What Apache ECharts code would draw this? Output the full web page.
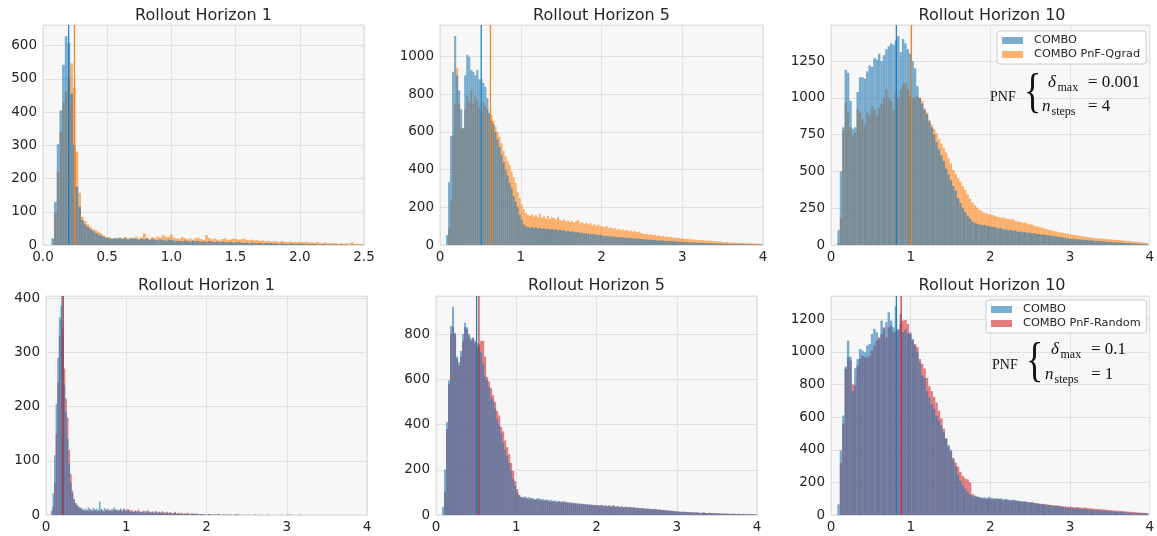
<!DOCTYPE html>
<html>
<head>
<meta charset="utf-8">
<script src="https://cdn.jsdelivr.net/npm/echarts@6/dist/echarts.min.js"></script>
<style>html,body{margin:0;padding:0;background:#fff}#c{width:1157px;height:536px}</style>
</head>
<body>
<div id="c"></div>
<script>
// ---------- Data (bin counts) ----------
// Panel 1: Rollout Horizon 1 (Qgrad), bins start 0.065, width 0.021
const p1Start = 0.065, p1Width = 0.021;
const p1Combo = [20,130,303,405,542,628,608,455,300,175,115,75,62,55,48,42,36,32,28,25,
 22,20,18,21,19,22,18,20,17,19,21,18,16,19,17,20,15,18,16,14,17,15,13,16,
 15,14,12,13,11,14,12,10,13,11,12,10,11,9,12,10,9,11,8,10,9,8,10,7,
 8,9,7,6,8,5,7,6,5,7,4,6,5,6,4,5,3,5,4,3,4,5,3,4,
 3,4,2,3,2,3,2,1,3,2,1,2,1,2,1,1,2,1,0,1,1,0,1,0];
const p1Qgrad = [0,95,220,340,430,462,507,547,472,281,157,85,72,62,55,48,45,40,35,28,
 22,24,20,18,22,19,21,24,20,22,18,25,20,23,35,22,19,24,21,26,22,30,25,24,
 32,22,20,18,24,21,17,19,16,20,22,18,15,30,21,17,19,16,14,18,20,15,17,19,
 18,16,17,19,15,14,16,13,15,12,14,11,13,10,12,11,9,12,10,9,11,8,10,9,
 9,8,10,7,8,6,9,7,5,8,6,4,6,5,4,6,3,5,4,8,3,4,2,3];
// Panel 2: Rollout Horizon 5 (Qgrad), bins start 0.075, width 0.025
const p2Start = 0.075, p2Width = 0.025;
const p2Combo = [53,333,579,920,1110,900,820,720,620,900,1010,1000,930,920,900,930,880,880,860,840,780,700,660,640,600,560,520,480,440,400,370,330,300,260,230,200,160,135,110,100,95,
 92,96,90,94,88,91,86,89,84,87,82,85,80,83,78,81,
 76,79,72,75,70,73,68,66,69,63,65,61,64,58,60,56,59,54,52,55,
 50,47,49,45,47,43,45,41,43,40,42,38,39,36,38,35,36,33,34,32,
 31,29,30,27,28,26,27,24,25,23,24,22,21,22,20,19,20,18,17,18,
 16,15,16,14,13,14,12,13,11,12,10,11,10,9,10,8,9,8,7,8,
 7,6,7,5,6,5,6,4,5,4,5,3,4,3,4,2,3,3,2,2];
const p2Qgrad = [0,90,240,585,750,940,750,620,620,720,790,760,820,750,790,770,730,700,760,740,720,700,690,660,630,600,575,540,500,470,445,425,390,360,330,280,250,215,190,170,160,
 155,162,150,158,148,165,145,152,140,155,138,147,142,135,150,132,
 128,135,125,130,122,128,118,125,132,115,120,112,118,108,115,105,110,102,108,100,
 98,95,100,90,94,86,90,82,86,78,84,76,80,72,76,70,74,68,70,65,
 62,58,60,55,57,52,54,49,51,46,48,44,45,41,43,39,40,37,38,35,
 34,32,33,30,31,28,29,26,27,25,26,23,24,22,23,20,21,19,20,18,
 16,15,16,13,14,12,13,11,12,10,11,9,10,8,9,7,8,6,7,6];
// Panel 3: Rollout Horizon 10 (Qgrad), bins start 0.08, width 0.03
const p3Start = 0.08, p3Width = 0.03;
const p3Combo = [100,500,800,1190,1170,980,790,800,1040,1140,1140,1130,1180,1220,1210,1270,1260,1300,1250,1290,1330,1350,1370,1360,1390,1420,1310,1400,1370,1330,1300,1250,1200,1080,1000,960,
 920,890,840,800,750,700,650,610,570,520,480,440,400,370,320,285,250,225,200,180,160,150,145,140,135,138,130,128,125,122,
 118,112,115,106,108,100,103,96,98,90,93,86,88,82,84,78,80,74,75,70,71,66,67,62,63,58,56,54,50,48,
 45,42,43,39,40,36,37,33,34,31,32,29,28,27,25,24,23,22,20,19,18,17,16,15,14,13,12,11,10,9,8,7,6,5];
const p3Qgrad = [15,180,780,970,900,800,740,760,920,900,860,820,900,880,940,920,880,930,960,1000,1060,1000,980,920,1040,1000,1060,1090,1100,1060,1010,1000,1000,1010,1000,980,
 930,900,850,820,790,760,720,690,660,630,590,555,510,485,455,430,400,375,345,315,290,270,255,240,228,218,215,208,205,200,
 195,190,185,188,180,178,172,175,165,160,158,150,152,145,140,138,130,126,122,118,112,108,104,100,96,92,88,85,82,78,
 76,72,70,68,65,62,60,56,54,52,50,48,46,45,44,42,40,39,38,36,35,34,32,30,29,28,26,24,22,21,19,18,16,14];
// Panel 4: Rollout Horizon 1 (Random), bins start 0.06, width 0.02
const p4Start = 0.06, p4Width = 0.02;
const p4Combo = [8,40,110,205,290,365,386,330,240,190,140,95,60,40,28,22,18,15,14,12,
 10,12,9,14,11,8,13,10,12,9,25,11,8,13,10,12,9,7,11,14,8,10,9,12,7,10,8,11,9,6,
 7,5,8,6,4,7,5,6,3,7,5,4,6,5,3,6,4,5,3,4,5,2,4,3,5,2,3,4,2,3,
 2,3,1,2,3,1,2,1,3,2,1,2,1,1,2,1,0,1,2,1,0,1,1,0,2,1,0,1,0,1,
 0,1,0,0,1,0,1,0,0,1,0,0,0,1,0,0,1,0,0,0,1,0,0,0,0,1,0,0,0,0,
 0,0,0,1,0,0,0,1,1,0,1,0,0,0,0,1,0,0,0,0,0,0];
const p4Random = [0,15,60,150,245,330,360,345,270,215,180,120,75,45,30,22,18,14,12,10,
 8,7,9,6,10,8,7,9,6,8,7,10,8,6,9,7,8,10,7,9,11,8,7,10,8,12,9,7,11,8,
 9,6,8,7,10,6,5,8,7,5,9,6,4,7,5,8,4,6,5,7,3,5,6,4,5,3,4,6,3,4,
 3,4,2,3,2,4,1,3,2,1,3,2,1,2,1,2,1,0,2,1,1,0,1,2,0,1,0,1,1,0,
 1,0,1,0,0,2,0,1,0,0,0,1,0,0,0,0,0,1,0,0,0,0,0,0,0,0,0,0,0,0,
 0,0,0,0,0,0,0,0,0,0,0,0,0,0,0,0,0,0,0,0,0,0];
// Panel 5: Rollout Horizon 5 (Random), bins start 0.075, width 0.025
const p5Start = 0.075, p5Width = 0.025;
const p5Combo = [35,200,410,595,835,920,805,700,675,725,800,850,830,800,780,785,770,760,745,720,670,615,595,565,520,505,470,425,395,360,320,290,260,230,195,160,130,100,85,78,80,
 82,76,79,72,75,70,73,74,68,71,66,69,64,67,62,65,
 60,62,58,57,59,55,56,53,54,51,52,49,50,47,48,46,47,44,45,43,
 43,42,44,40,42,39,41,38,40,37,38,36,37,35,36,34,35,33,34,32,
 31,30,29,30,28,27,28,26,25,26,24,23,22,23,21,20,19,18,17,16,
 15,14,15,13,14,12,13,11,12,10,11,10,9,10,9,8,9,8,7,8,
 7,6,7,5,6,5,6,4,5,4,5,4,3,4,3,3,4,2,3,2];
const p5Random = [0,100,380,580,800,830,800,690,660,700,770,830,820,790,770,780,760,740,755,770,770,700,610,590,560,530,500,460,440,390,370,330,300,270,230,195,150,115,90,80,76,
 75,72,70,74,68,66,70,64,67,62,65,60,63,58,61,56,
 58,60,56,62,54,57,52,55,50,53,48,51,47,49,45,47,44,46,42,44,
 44,41,45,40,43,38,42,37,44,36,40,35,38,34,37,33,36,32,34,31,
 32,29,30,28,27,29,26,25,27,24,23,25,21,22,20,21,18,19,17,16,
 16,14,13,15,12,13,11,14,10,12,11,9,10,12,8,9,10,8,9,7,
 8,6,5,7,5,6,4,5,6,4,5,3,4,5,3,4,2,4,3,2];
// Panel 6: Rollout Horizon 10 (Random), bins start 0.08, width 0.03
const p6Start = 0.08, p6Width = 0.03;
const p6Combo = [65,396,610,910,1069,971,760,900,957,1018,1008,998,1039,1049,1110,1141,1120,1080,1192,1141,1182,1243,1192,1151,1279,1141,1233,1120,1140,1110,1120,1080,1039,998,937,855,
 840,760,720,680,650,610,580,550,510,470,430,400,340,300,250,210,180,160,140,125,118,112,115,110,106,108,104,110,106,102,
 104,100,102,96,98,94,92,95,90,88,86,84,82,80,78,75,73,70,68,66,64,62,60,58,56,55,53,51,49,47,
 45,44,43,41,40,39,37,36,35,33,32,31,29,28,27,26,25,24,22,21,20,19,18,17,16,15,14,13,12,12,11,10,10,9];
const p6Random = [0,320,560,896,967,947,800,794,916,957,977,967,967,977,1008,1039,1069,1090,1110,1151,1090,1151,1161,1120,1120,1130,1171,1192,1196,1171,1110,1069,1049,1029,957,927,
 898,840,790,760,724,690,640,592,530,470,420,390,350,320,296,265,240,224,218,200,130,120,110,108,102,100,98,100,96,98,
 96,98,94,92,95,90,88,86,90,84,82,80,84,78,76,80,74,72,70,68,69,65,63,62,60,58,59,55,53,52,
 50,52,48,47,49,45,44,46,42,41,40,38,37,36,35,34,32,31,30,28,27,26,25,24,22,21,20,19,18,16,15,14,13,12];

// mean values (vertical lines)
const means = [[0.20,0.245],[0.51,0.625],[0.82,1.01],[0.20,0.215],[0.506,0.535],[0.82,0.88]];
const titles = ['Rollout Horizon 1','Rollout Horizon 5','Rollout Horizon 10','Rollout Horizon 1','Rollout Horizon 5','Rollout Horizon 10'];
const yMax = [662,1168,1495,404,968,1343];
const yInterval = [100,200,250,100,200,200];
const xMax = [2.5,4,4,4,4,4];
const xInterval = [0.5,1,1,1,1,1];

// ---------- Styling ----------
const BLUE = 'rgba(31,119,180,0.6)', ORANGE = 'rgba(255,127,14,0.6)', RED = 'rgba(214,39,40,0.6)';
const BLUE_L = '#1f77b4', ORANGE_L = '#ff7f0e', RED_L = '#d62728';
const TXT = '#262626';
const grids = [
  {left:43, top:25, width:321, height:220},
  {left:440, top:25, width:323, height:220},
  {left:831, top:25, width:322, height:220},
  {left:46, top:296, width:321, height:219},
  {left:436, top:296, width:321, height:219},
  {left:831, top:296, width:322, height:219}
].map(g => Object.assign({show:true, backgroundColor:'#f7f7f7', borderColor:'#dcdcdc', borderWidth:1, containLabel:false}, g));

function hist(name, start, width, values, color, gi) {
  const data = values.map((v,i) => [start + i*width, start + (i+1)*width, v]);
  return {
    type:'custom', name, xAxisIndex:gi, yAxisIndex:gi, clip:true, silent:true,
    itemStyle:{color}, encode:{x:[0,1], y:2}, data,
    renderItem(params, api) {
      const a = api.coord([api.value(0), api.value(2)]);
      const b = api.coord([api.value(1), 0]);
      return {type:'rect', shape:{x:a[0], y:a[1], width:b[0]-a[0], height:b[1]-a[1]}, style:{fill:color}};
    }
  };
}
function vline(m, color, gi) {
  return {type:'line', xAxisIndex:gi, yAxisIndex:gi, data:[[m,0],[m,yMax[gi]]], symbol:'none', silent:true,
    lineStyle:{color, width:1.2}, z:5, animation:false};
}

const xAxes = grids.map((g,i) => ({
  gridIndex:i, type:'value', min:0, max:xMax[i], interval:xInterval[i],
  axisLine:{show:false}, axisTick:{show:false},
  splitLine:{show:true, lineStyle:{color:'#e1e1e1', width:1}},
  axisLabel:{fontFamily:'DejaVu Sans', fontSize:13.5, color:TXT, margin:5,
    formatter: v => i === 0 ? v.toFixed(1) : String(Math.round(v))}
}));
const yAxes = grids.map((g,i) => ({
  gridIndex:i, type:'value', min:0, max:yMax[i], interval:yInterval[i],
  axisLine:{show:false}, axisTick:{show:false},
  splitLine:{show:true, lineStyle:{color:'#e1e1e1', width:1}},
  axisLabel:{fontFamily:'DejaVu Sans', fontSize:13.5, color:TXT, margin:6, showMaxLabel:false,
    formatter: v => String(Math.round(v))}
}));

const series = [
  hist('COMBO PnF-Qgrad', p1Start, p1Width, p1Qgrad, ORANGE, 0),
  hist('COMBO', p1Start, p1Width, p1Combo, BLUE, 0),
  hist('COMBO PnF-Qgrad', p2Start, p2Width, p2Qgrad, ORANGE, 1),
  hist('COMBO', p2Start, p2Width, p2Combo, BLUE, 1),
  hist('COMBO PnF-Qgrad', p3Start, p3Width, p3Qgrad, ORANGE, 2),
  hist('COMBO', p3Start, p3Width, p3Combo, BLUE, 2),
  hist('COMBO PnF-Random', p4Start, p4Width, p4Random, RED, 3),
  hist('COMBO', p4Start, p4Width, p4Combo, BLUE, 3),
  hist('COMBO PnF-Random', p5Start, p5Width, p5Random, RED, 4),
  hist('COMBO', p5Start, p5Width, p5Combo, BLUE, 4),
  hist('COMBO PnF-Random', p6Start, p6Width, p6Random, RED, 5),
  hist('COMBO', p6Start, p6Width, p6Combo, BLUE, 5)
];
means.forEach((m,i) => {
  series.push(vline(m[0], BLUE_L, i));
  series.push(vline(m[1], i < 3 ? ORANGE_L : RED_L, i));
});

const legendBase = {
  orient:'vertical', itemWidth:21, itemHeight:7, itemGap:3, icon:'rect',
  backgroundColor:'rgba(255,255,255,0.85)', borderColor:'#cccccc', borderWidth:1, borderRadius:3,
  padding:[4,6,4,5], selectedMode:false,
  textStyle:{fontFamily:'DejaVu Sans', fontSize:11.3, color:TXT, padding:[0,0,0,6]}
};
const legends = [
  Object.assign({}, legendBase, {left:997, top:31, data:['COMBO','COMBO PnF-Qgrad']}),
  Object.assign({}, legendBase, {left:986, top:300, data:['COMBO','COMBO PnF-Random']})
];

// titles and PNF annotations
const graphics = [];
grids.forEach((g,i) => {
  graphics.push({type:'text', x:g.left + g.width/2, y:(i<3 ? 16 : 285.5),
    style:{text:titles[i], font:'16px "DejaVu Sans"', fill:TXT, align:'center', verticalAlign:'middle'}});
});
function pnf(base, delta, nsteps) {
  const serif = '"Liberation Serif", "DejaVu Serif", serif';
  const items = [
    {t:'PNF', x:base.px, y:base.py, f:'14px ' + serif},
    {t:'{', x:base.bx, y:base.by, f:'36px ' + serif, sy:1.35},
    {t:'δ', x:base.dx, y:base.dy, f:'italic 17px ' + serif},
    {t:'max', x:base.dx + 9.5, y:base.dy + 5, f:'12px ' + serif},
    {t:'= ' + delta, x:base.dx + 40, y:base.dy, f:'17px ' + serif},
    {t:'n', x:base.dx - 6, y:base.ny, f:'italic 17px ' + serif},
    {t:'steps', x:base.dx + 3.5, y:base.ny + 5, f:'12px ' + serif},
    {t:'= ' + nsteps, x:base.dx + 40, y:base.ny, f:'17px ' + serif}
  ];
  items.forEach(it => {
    graphics.push({type:'text', x:it.x, y:it.y, scaleY:it.sy || 1, originY:0,
      style:{text:it.t, font:it.f, fill:'#111', align:'left', verticalAlign:'middle'}, z:20});
  });
}
pnf({px:990, py:97, bx:1024, by:94, dx:1048, dy:83, ny:107}, '0.001', '4');
pnf({px:992, py:365, bx:1026, by:363, dx:1051, dy:350, ny:375}, '0.1', '1');

const chart = echarts.init(document.getElementById('c'), null, {renderer:'canvas'});
chart.setOption({
  animation:false,
  backgroundColor:'#ffffff',
  grid:grids, xAxis:xAxes, yAxis:yAxes, legend:legends, series, graphic:graphics
});
</script>
</body>
</html>
